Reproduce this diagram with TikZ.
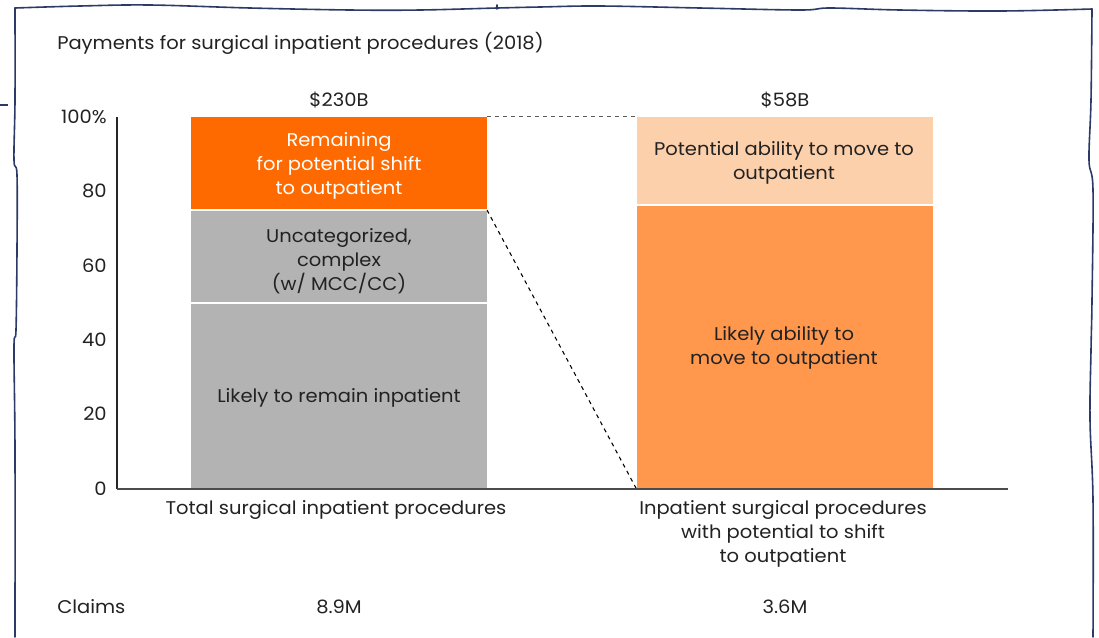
\documentclass[tikz,border=0pt]{standalone}
\usepackage{fontspec}
\setmainfont[FakeStretch=1.06]{Poppins}
\definecolor{navy}{HTML}{2B3A67}
\definecolor{txt}{HTML}{222222}
\definecolor{orangeA}{HTML}{FF6A00}
\definecolor{greyA}{HTML}{B3B3B3}
\definecolor{peach}{HTML}{FDD0AC}
\definecolor{orangeB}{HTML}{FF974C}
\begin{document}
\begin{tikzpicture}[x=0.75pt,y=-0.75pt,
  lbl/.style={font=\fontsize{13.8}{18}\selectfont, text=txt, align=center, inner sep=0pt},
  wlbl/.style={lbl, text=white},
  ytick/.style={lbl, anchor=east},
  seg/.style={draw=white, line width=1.5pt},
  framepath/.style={draw=navy, line width=1.2pt, line cap=round, line join=round},
  conn/.style={dashed, line width=0.8pt}]
\useasboundingbox (0,0) rectangle (1099,637);
\fill[white] (0,0) rectangle (1099,637);

% hand-drawn frame
\draw[framepath] plot[smooth, tension=0.6] coordinates {(15,637) (15,450) (14,347) (16,330) (17,250) (17,175) (14,160) (15,100) (15,8)};
\draw[framepath] plot[smooth, tension=0.6] coordinates {(15,8) (80,6) (150,5) (250,8) (350,10) (420,10) (497,8) (540,7) (600,6) (700,8) (800,10) (830,8) (900,10) (1000,11) (1092,9)};
\draw[framepath] plot[smooth, tension=0.6] coordinates {(1092,9) (1091,100) (1089,160) (1093,190) (1092,300) (1091,350) (1090,420) (1093,500) (1093,637)};
\draw[framepath] (497,5) -- (497,9);
\draw[navy, line width=1.2pt] (0,105) -- (8,105);

% title
\node[lbl, anchor=west] (title) at (57,43) {Payments for surgical inpatient procedures (2018)};

% bar 1 segments
\fill[orangeA] (191,117) rectangle (487,210);
\fill[greyA] (191,210) rectangle (487,303);
\fill[greyA] (191,303) rectangle (487,489);
\draw[seg] (191,210) -- (487,210);
\draw[seg] (191,303) -- (487,303);
% bar 2 segments
\fill[peach] (637,117) rectangle (933,204.5);
\fill[orangeB] (637,204.5) rectangle (933,489);
\draw[seg] (637,204.5) -- (933,204.5);

% coordinates for connectors
\coordinate (b1top) at (487,116.5);
\coordinate (b2top) at (637,116.5);
\coordinate (b1mid) at (487,210);
\coordinate (b2base) at (636.5,489);
\draw[conn, draw=black!65] (b1top) -- (b2top);
\draw[conn] (b1mid) -- (b2base);

% axes
\coordinate (yaxtop) at (117,117);
\coordinate (origin) at (117,489);
\coordinate (xaxend) at (1008,489);
\draw[black!85, line width=0.9pt] (yaxtop) -- (origin);
\draw[black!70, line width=1.3pt] (origin) -- (xaxend);

% y tick labels
\node[ytick] (y100) at (107,117) {100\%};
\node[ytick] (y80) at (107,191) {80};
\node[ytick] (y60) at (107,266) {60};
\node[ytick] (y40) at (107,340) {40};
\node[ytick] (y20) at (107,414) {20};
\node[ytick] (y0) at (107,489) {0};

% totals
\node[lbl] (tot1) at (339,100) {\$230B};
\node[lbl] (tot2) at (785,100) {\$58B};

% bar texts
\node[wlbl] (rem) at (339,165.5) {Remaining\\for potential shift\\to outpatient};
\node[lbl] (unc) at (339,261.5) {Uncategorized,\\complex\\(w/ MCC/CC)};
\node[lbl] (lik) at (339,398) {Likely to remain inpatient};
\node[lbl] (pot) at (784,163) {Potential ability to move to\\outpatient};
\node[lbl] (lab) at (784,348) {Likely ability to\\move to outpatient};

% category labels
\node[lbl, anchor=north] (cat1) at (336,500) {Total surgical inpatient procedures};
\node[lbl, anchor=north] (cat2) at (783,500) {Inpatient surgical procedures\\with potential to shift\\to outpatient};

% claims row
\node[lbl, anchor=west] (claims) at (57,607) {Claims};
\node[lbl] (c1) at (339,607) {8.9M};
\node[lbl] (c2) at (785,607) {3.6M};
\end{tikzpicture}
\end{document}
